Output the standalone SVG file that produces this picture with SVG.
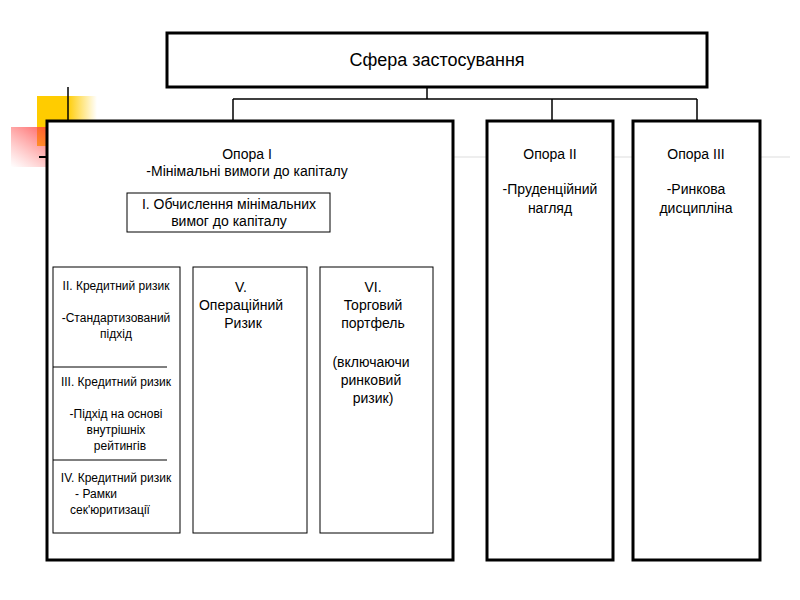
<svg xmlns="http://www.w3.org/2000/svg" width="800" height="600" viewBox="0 0 800 600">
<defs>
<linearGradient id="gy" x1="0" x2="1" y1="0" y2="0"><stop offset="0.5" stop-color="#ffcc00"/><stop offset="1" stop-color="#ffcc00" stop-opacity="0"/></linearGradient>
<linearGradient id="gr" x1="1" x2="0" y1="0" y2="1"><stop offset="0" stop-color="#ff3333"/><stop offset="1" stop-color="#ff6666" stop-opacity="0"/></linearGradient>
<style>
.b{fill:#fff;stroke:#000;stroke-width:3}
.t{fill:#fff;stroke:#000;stroke-width:1}
.c{fill:none;stroke:#000;stroke-width:1.5}
text{font-family:"Liberation Sans",Arial,sans-serif;fill:#000;text-anchor:middle}
.m{font-size:14px}
.s{font-size:12px}
</style>
</defs>
<rect width="800" height="600" fill="#fff"/>
<g id="decor">
<rect x="37" y="96" width="60" height="50" fill="url(#gy)"/>
<rect x="11" y="127" width="60" height="40" fill="url(#gr)"/>
<line x1="68" y1="87" x2="68" y2="160" stroke="#000" stroke-width="1.5"/>
<line x1="39" y1="157" x2="790" y2="157" stroke="#ddd" stroke-width="1"/>
<line x1="39" y1="157" x2="60" y2="157" stroke="#000" stroke-width="2"/>
</g>
<g id="connectors">
<path class="c" d="M427 87V99M233 99H697M233 99V121M552 99V121M697 99V121"/>
<path class="c" d="M247 232V252M135 252H379M135 252V267M248 252V267M379 252V267" stroke-width="1"/>
</g>
<g id="scope"><rect class="b" x="167" y="33" width="540" height="54"/><text x="437" y="66" font-size="18">Сфера застосування</text></g>
<g id="pillar1"><rect class="b" x="47" y="121" width="406" height="439"/>
<text class="m" x="247" y="159">Опора І</text><text class="m" x="247" y="176">-Мінімальні вимоги до капіталу</text></g>
<g id="pillar2"><rect class="b" x="487" y="121" width="126" height="439"/>
<text class="m" x="550" y="159">Опора ІІ</text><text class="m" x="550" y="194">-Пруденційний</text><text class="m" x="550" y="213">нагляд</text></g>
<g id="pillar3"><rect class="b" x="633" y="121" width="127" height="439"/>
<text class="m" x="696" y="159">Опора ІІІ</text><text class="m" x="696" y="194">-Ринкова</text><text class="m" x="696" y="213">дисципліна</text></g>
<g id="calc"><rect class="t" x="127" y="193" width="203" height="39"/>
<text class="m" x="229" y="209">І. Обчислення мінімальних</text><text class="m" x="229" y="226">вимог до капіталу</text></g>
<g id="credit"><rect class="t" x="53" y="267" width="127" height="266"/>
<line x1="53" y1="367" x2="167" y2="367" stroke="#000"/><line x1="53" y1="460" x2="167" y2="460" stroke="#000"/>
<text class="s" x="116" y="290">ІІ. Кредитний ризик</text><text class="s" x="116" y="322">-Стандартизований</text><text class="s" x="116" y="338">підхід</text>
<text class="s" x="116" y="386">ІІІ. Кредитний ризик</text><text class="s" x="116" y="418">-Підхід на основі</text><text class="s" x="116" y="434">внутрішніх</text><text class="s" x="120" y="450">рейтингів</text>
<text class="s" x="116" y="482">ІV. Кредитний ризик</text><text class="s" x="96" y="498">- Рамки</text><text class="s" x="110" y="514">сек'юритизації</text></g>
<g id="oper"><rect class="t" x="193" y="267" width="114" height="266"/>
<text class="m" x="241" y="292">V.</text><text class="m" x="241" y="310">Операційний</text><text class="m" x="243" y="328">Ризик</text></g>
<g id="trade"><rect class="t" x="320" y="267" width="113" height="266"/>
<text class="m" x="373" y="292">VI.</text><text class="m" x="373" y="310">Торговий</text><text class="m" x="373" y="328">портфель</text>
<text class="m" x="371" y="367">(включаючи</text><text class="m" x="371" y="385">ринковий</text><text class="m" x="373" y="403">ризик)</text></g>
</svg>
